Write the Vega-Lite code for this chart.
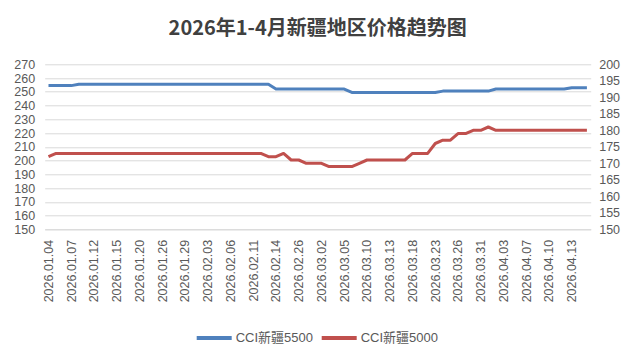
{
  "$schema": "https://vega.github.io/schema/vega-lite/v6.json",
  "width": 546,
  "height": 165,
  "autosize": {"type": "none"},
  "padding": {"left": 44.7, "top": 64.3, "right": 44.3, "bottom": 132.7},
  "background": "white",
  "title": {
    "text": "2026年1-4月新疆地区价格趋势图",
    "font": "Noto Sans CJK SC",
    "fontSize": 20,
    "fontWeight": "bold",
    "color": "#404040",
    "anchor": "middle",
    "offset": 19
  },
  "config": {
    "view": {"stroke": null},
    "axis": {"labelFont": "Liberation Sans", "labelFontSize": 12.5, "labelColor": "#595959", "ticks": false, "domain": false, "title": null}
  },
  "data": {
    "values": [
      {"date": "2026.01.04", "cci5500": 254.5, "cci5000": 172},
      {"date": "2026.01.05", "cci5500": 254.5, "cci5000": 173},
      {"date": "2026.01.06", "cci5500": 254.5, "cci5000": 173},
      {"date": "2026.01.07", "cci5500": 254.5, "cci5000": 173},
      {"date": "2026.01.08", "cci5500": 255.5, "cci5000": 173},
      {"date": "2026.01.09", "cci5500": 255.5, "cci5000": 173},
      {"date": "2026.01.12", "cci5500": 255.5, "cci5000": 173},
      {"date": "2026.01.13", "cci5500": 255.5, "cci5000": 173},
      {"date": "2026.01.14", "cci5500": 255.5, "cci5000": 173},
      {"date": "2026.01.15", "cci5500": 255.5, "cci5000": 173},
      {"date": "2026.01.16", "cci5500": 255.5, "cci5000": 173},
      {"date": "2026.01.19", "cci5500": 255.5, "cci5000": 173},
      {"date": "2026.01.20", "cci5500": 255.5, "cci5000": 173},
      {"date": "2026.01.22", "cci5500": 255.5, "cci5000": 173},
      {"date": "2026.01.23", "cci5500": 255.5, "cci5000": 173},
      {"date": "2026.01.26", "cci5500": 255.5, "cci5000": 173},
      {"date": "2026.01.27", "cci5500": 255.5, "cci5000": 173},
      {"date": "2026.01.28", "cci5500": 255.5, "cci5000": 173},
      {"date": "2026.01.29", "cci5500": 255.5, "cci5000": 173},
      {"date": "2026.01.30", "cci5500": 255.5, "cci5000": 173},
      {"date": "2026.02.02", "cci5500": 255.5, "cci5000": 173},
      {"date": "2026.02.03", "cci5500": 255.5, "cci5000": 173},
      {"date": "2026.02.04", "cci5500": 255.5, "cci5000": 173},
      {"date": "2026.02.05", "cci5500": 255.5, "cci5000": 173},
      {"date": "2026.02.06", "cci5500": 255.5, "cci5000": 173},
      {"date": "2026.02.09", "cci5500": 255.5, "cci5000": 173},
      {"date": "2026.02.10", "cci5500": 255.5, "cci5000": 173},
      {"date": "2026.02.11", "cci5500": 255.5, "cci5000": 173},
      {"date": "2026.02.12", "cci5500": 255.5, "cci5000": 173},
      {"date": "2026.02.13", "cci5500": 255.5, "cci5000": 172},
      {"date": "2026.02.14", "cci5500": 252, "cci5000": 172},
      {"date": "2026.02.24", "cci5500": 252, "cci5000": 173},
      {"date": "2026.02.25", "cci5500": 252, "cci5000": 171},
      {"date": "2026.02.26", "cci5500": 252, "cci5000": 171},
      {"date": "2026.02.27", "cci5500": 252, "cci5000": 170},
      {"date": "2026.02.28", "cci5500": 252, "cci5000": 170},
      {"date": "2026.03.02", "cci5500": 252, "cci5000": 170},
      {"date": "2026.03.03", "cci5500": 252, "cci5000": 169},
      {"date": "2026.03.04", "cci5500": 252, "cci5000": 169},
      {"date": "2026.03.05", "cci5500": 252, "cci5000": 169},
      {"date": "2026.03.06", "cci5500": 249.5, "cci5000": 169},
      {"date": "2026.03.09", "cci5500": 249.5, "cci5000": 170},
      {"date": "2026.03.10", "cci5500": 249.5, "cci5000": 171},
      {"date": "2026.03.11", "cci5500": 249.5, "cci5000": 171},
      {"date": "2026.03.12", "cci5500": 249.5, "cci5000": 171},
      {"date": "2026.03.13", "cci5500": 249.5, "cci5000": 171},
      {"date": "2026.03.16", "cci5500": 249.5, "cci5000": 171},
      {"date": "2026.03.17", "cci5500": 249.5, "cci5000": 171},
      {"date": "2026.03.18", "cci5500": 249.5, "cci5000": 173},
      {"date": "2026.03.19", "cci5500": 249.5, "cci5000": 173},
      {"date": "2026.03.20", "cci5500": 249.5, "cci5000": 173},
      {"date": "2026.03.23", "cci5500": 249.5, "cci5000": 176},
      {"date": "2026.03.24", "cci5500": 250.5, "cci5000": 177},
      {"date": "2026.03.25", "cci5500": 250.5, "cci5000": 177},
      {"date": "2026.03.26", "cci5500": 250.5, "cci5000": 179},
      {"date": "2026.03.27", "cci5500": 250.5, "cci5000": 179},
      {"date": "2026.03.30", "cci5500": 250.5, "cci5000": 180},
      {"date": "2026.03.31", "cci5500": 250.5, "cci5000": 180},
      {"date": "2026.04.01", "cci5500": 250.5, "cci5000": 181},
      {"date": "2026.04.02", "cci5500": 252, "cci5000": 180},
      {"date": "2026.04.03", "cci5500": 252, "cci5000": 180},
      {"date": "2026.04.05", "cci5500": 252, "cci5000": 180},
      {"date": "2026.04.06", "cci5500": 252, "cci5000": 180},
      {"date": "2026.04.07", "cci5500": 252, "cci5000": 180},
      {"date": "2026.04.08", "cci5500": 252, "cci5000": 180},
      {"date": "2026.04.09", "cci5500": 252, "cci5000": 180},
      {"date": "2026.04.10", "cci5500": 252, "cci5000": 180},
      {"date": "2026.04.11", "cci5500": 252, "cci5000": 180},
      {"date": "2026.04.12", "cci5500": 252, "cci5000": 180},
      {"date": "2026.04.13", "cci5500": 253, "cci5000": 180},
      {"date": "2026.04.14", "cci5500": 253, "cci5000": 180},
      {"date": "2026.04.15", "cci5500": 253, "cci5000": 180}
    ]
  },
  "encoding": {
    "x": {
      "field": "date",
      "type": "ordinal",
      "sort": null,
      "scale": {"type": "point", "padding": 0.5},
      "axis": {
        "values": ["2026.01.04", "2026.01.07", "2026.01.12", "2026.01.15", "2026.01.20", "2026.01.26", "2026.01.29", "2026.02.03", "2026.02.06", "2026.02.11", "2026.02.14", "2026.02.26", "2026.03.02", "2026.03.05", "2026.03.10", "2026.03.13", "2026.03.18", "2026.03.23", "2026.03.26", "2026.03.31", "2026.04.03", "2026.04.07", "2026.04.10", "2026.04.13"],
        "labelAngle": -90,
        "labelPadding": 10,
        "grid": false,
        "domain": true,
        "domainColor": "#d9d9d9",
        "labelOverlap": false
      }
    }
  },
  "layer": [
    {
      "mark": {"type": "line", "strokeWidth": 3, "strokeJoin": "round"},
      "encoding": {
        "y": {
          "field": "cci5500",
          "type": "quantitative",
          "scale": {"domain": [150, 270], "nice": false, "zero": false},
          "axis": {"values": [150, 160, 170, 180, 190, 200, 210, 220, 230, 240, 250, 260, 270], "grid": true, "gridColor": "#d9d9d9", "labelPadding": 10}
        },
        "color": {
          "datum": "CCI新疆5500",
          "scale": {"domain": ["CCI新疆5500", "CCI新疆5000"], "range": ["#4F81BD", "#C0504D"]},
          "legend": {
            "orient": "none",
            "legendX": 150,
            "legendY": 254,
            "direction": "horizontal",
            "title": null,
            "symbolType": "stroke",
            "symbolSize": 1225,
            "symbolStrokeWidth": 4,
            "labelFont": "Liberation Sans, Noto Sans CJK SC",
            "labelFontSize": 13,
            "labelColor": "#595959",
            "labelOffset": 2,
            "columnPadding": 0
          }
        }
      }
    },
    {
      "mark": {"type": "line", "strokeWidth": 3, "strokeJoin": "round"},
      "encoding": {
        "y": {
          "field": "cci5000",
          "type": "quantitative",
          "scale": {"domain": [150, 200], "nice": false, "zero": false},
          "axis": {"orient": "right", "values": [150, 155, 160, 165, 170, 175, 180, 185, 190, 195, 200], "grid": false, "labelPadding": 8}
        },
        "color": {"datum": "CCI新疆5000"}
      }
    }
  ],
  "resolve": {"scale": {"y": "independent"}}
}
